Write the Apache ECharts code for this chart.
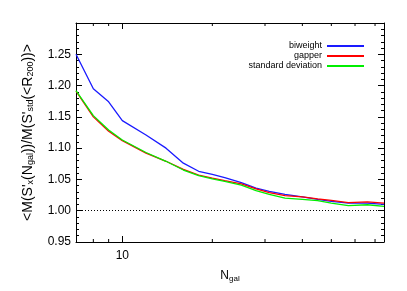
<!DOCTYPE html>
<html>
<head>
<meta charset="utf-8">
<script src="https://cdn.jsdelivr.net/npm/echarts@6/dist/echarts.min.js"></script>
<style>
html,body{margin:0;padding:0;background:#fff;}
#chart{width:407px;height:291px;}
</style>
</head>
<body>
<div id="chart"></div>
<script>
// ---- data ----
var nGal = [7, 8, 9, 10, 12, 14, 16, 18, 20, 22, 25, 28, 31, 35, 40, 45, 50, 57, 66, 75];
var biweight = [1.250, 1.195, 1.174, 1.144, 1.121, 1.100, 1.076, 1.063, 1.058, 1.053, 1.045, 1.036, 1.031, 1.026, 1.022, 1.018, 1.015, 1.012, 1.012, 1.010];
var gapper = [1.191, 1.150, 1.127, 1.112, 1.092, 1.079, 1.066, 1.057, 1.052, 1.048, 1.043, 1.035, 1.029, 1.024, 1.022, 1.019, 1.0165, 1.013, 1.014, 1.012];
var stddev = [1.192, 1.152, 1.129, 1.113, 1.093, 1.079, 1.065, 1.056, 1.051, 1.047, 1.041, 1.032, 1.026, 1.020, 1.018, 1.016, 1.012, 1.008, 1.0095, 1.007];
var seriesNames = ['biweight', 'gapper', 'standard deviation'];
var xMinorTicks = [8, 9, 20, 30, 40, 50, 60, 70];
var xRange = [7, 75];
var yRange = [0.95, 1.30];
var yStep = 0.05;
var refLevel = 1.0;

var FONT = '"Liberation Sans", Arial, Helvetica, sans-serif';
var chart = echarts.init(document.getElementById('chart'), null, {renderer: 'canvas'});

function pairs(ys) { return nGal.map(function (n, i) { return [n, ys[i]]; }); }

var axisLine = {show: true, lineStyle: {color: '#000', width: 1}};
var yAxisCommon = {
  type: 'value', min: yRange[0], max: yRange[1], interval: yStep,
  axisLine: axisLine,
  axisTick: {show: true, inside: true, length: 6, lineStyle: {color: '#000'}},
  minorTick: {show: true, splitNumber: 5, length: 3, lineStyle: {color: '#000'}},
  splitLine: {show: false}
};
var xAxisCommon = {
  type: 'log', logBase: 10, min: xRange[0], max: xRange[1],
  axisLine: axisLine,
  axisTick: {show: true, inside: true, length: 6, lineStyle: {color: '#000'}},
  splitLine: {show: false}
};

var option = {
  animation: false,
  backgroundColor: '#fff',
  grid: {left: 76, right: 23, top: 23, bottom: 49, containLabel: false},
  legend: {
    data: seriesNames,
    orient: 'vertical',
    align: 'right',
    right: 38,
    top: 36,
    itemGap: 0,
    itemWidth: 37,
    itemHeight: 2,
    icon: 'rect',
    textStyle: {fontSize: 9, color: '#000', fontFamily: FONT, lineHeight: 10, padding: [0, 0, 0, 0]}
  },
  xAxis: [
    Object.assign({}, xAxisCommon, {
      position: 'bottom',
      name: '{n|N}{s|gal}',
      nameLocation: 'middle',
      nameGap: 27,
      nameTextStyle: {
        rich: {
          n: {fontSize: 12, fontFamily: FONT, color: '#000', lineHeight: 14},
          s: {fontSize: 8, fontFamily: FONT, color: '#000', lineHeight: 8, verticalAlign: 'bottom', padding: [6, 0, 0, 0]}
        }
      },
      axisLabel: {
        show: true, margin: 8, fontSize: 12, color: '#000', fontFamily: FONT,
        showMinLabel: false, showMaxLabel: false,
        formatter: function (v) { return Math.abs(v - 10) < 1e-6 ? '10' : ''; }
      }
    }),
    Object.assign({}, xAxisCommon, {position: 'top', axisLabel: {show: false}})
  ],
  yAxis: [
    Object.assign({}, yAxisCommon, {
      position: 'left',
      name: '<M(S\'{s|x}(N{s|gal}))/M(S\'{s|std}(<R{s|200}))>',
      nameLocation: 'middle',
      nameRotate: 90,
      nameGap: 41,
      nameTextStyle: {
        fontSize: 14, fontFamily: FONT, color: '#000',
        rich: {
          s: {fontSize: 9, fontFamily: FONT, color: '#000', lineHeight: 9, verticalAlign: 'bottom', padding: [6, 0, 0, 0]}
        }
      },
      axisLabel: {
        show: true, margin: 5, fontSize: 12, color: '#000', fontFamily: FONT,
        showMaxLabel: false,
        formatter: function (v) { return v.toFixed(2); }
      }
    }),
    Object.assign({}, yAxisCommon, {position: 'right', axisLabel: {show: false}})
  ],
  series: [
    {
      name: seriesNames[0], type: 'line', data: pairs(biweight),
      showSymbol: false, symbol: 'none', lineStyle: {color: '#1a1aff', width: 1.3}, itemStyle: {color: '#1a1aff'},
      markLine: {
        silent: true, symbol: 'none', label: {show: false},
        lineStyle: {color: '#000', type: [1, 2], width: 1},
        data: [{yAxis: refLevel}]
      }
    },
    {
      name: seriesNames[1], type: 'line', data: pairs(gapper),
      showSymbol: false, symbol: 'none', lineStyle: {color: '#ff0000', width: 1.3}, itemStyle: {color: '#ff0000'}
    },
    {
      name: seriesNames[2], type: 'line', data: pairs(stddev),
      showSymbol: false, symbol: 'none', lineStyle: {color: '#00ee00', width: 1.3}, itemStyle: {color: '#00ee00'}
    },
    {
      name: 'xminor', type: 'custom', xAxisIndex: 0, yAxisIndex: 0, silent: true, clip: false,
      data: xMinorTicks.map(function (v) { return [v]; }),
      renderItem: function (params, api) {
        var v = api.value(0);
        var b = api.coord([v, yRange[0]]);
        var t = api.coord([v, yRange[1]]);
        var st = {stroke: '#000', lineWidth: 1};
        return {
          type: 'group',
          children: [
            {type: 'line', shape: {x1: b[0], y1: b[1], x2: b[0], y2: b[1] - 3}, style: st},
            {type: 'line', shape: {x1: t[0], y1: t[1], x2: t[0], y2: t[1] + 3}, style: st}
          ]
        };
      }
    }
  ]
};
chart.setOption(option);
</script>
</body>
</html>
